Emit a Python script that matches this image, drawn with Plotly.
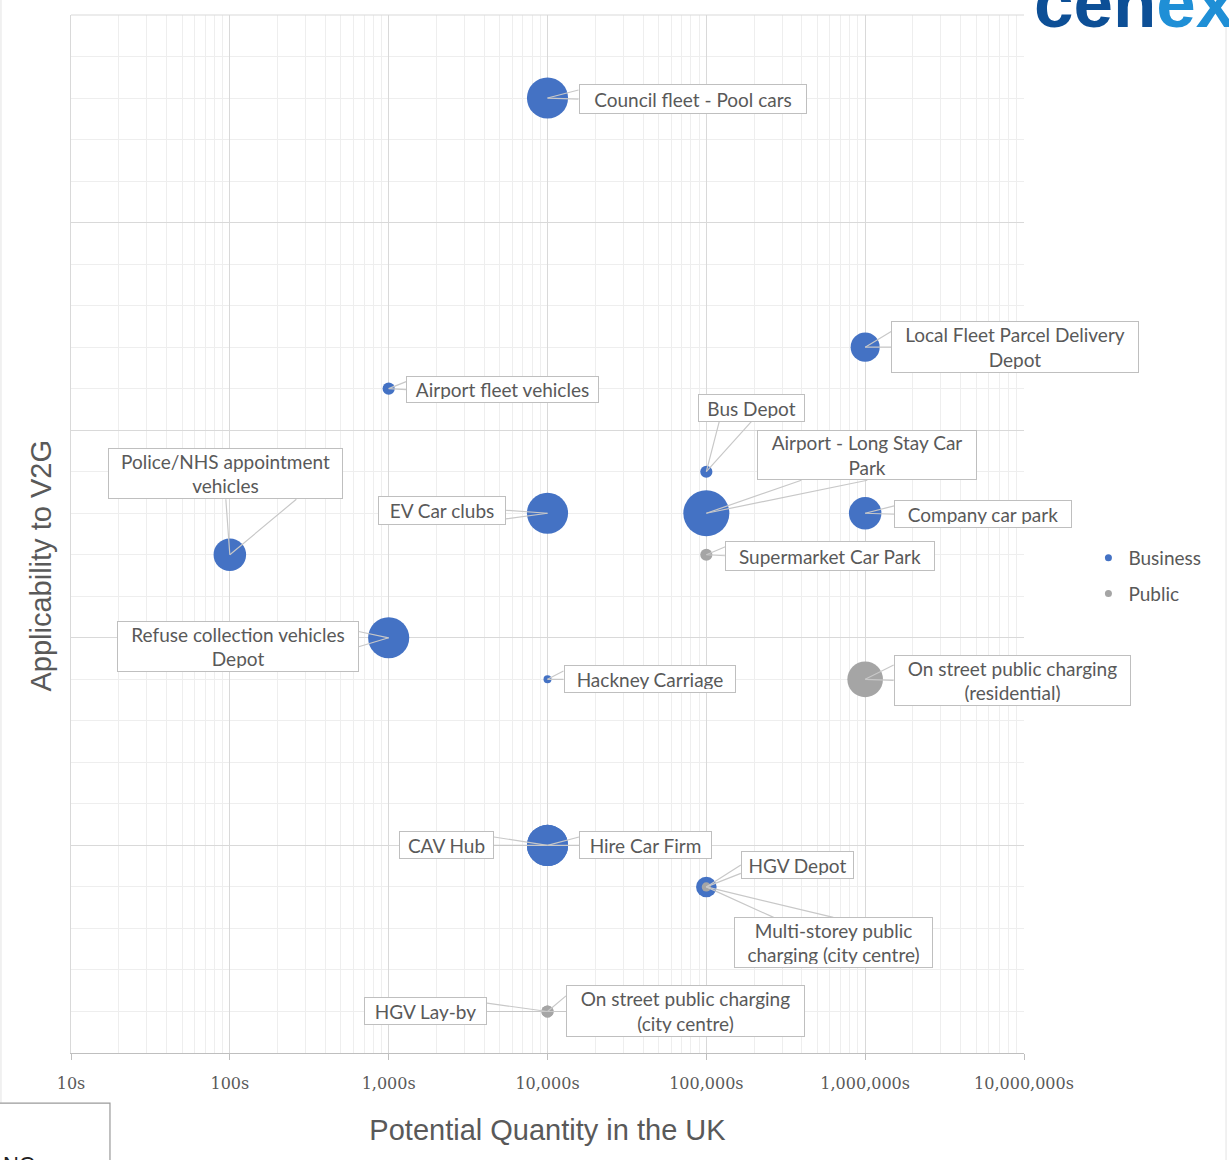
import numpy as np
import plotly.graph_objects as go

# ---- data -------------------------------------------------------------
sites = [
    "Council fleet - Pool cars",
    "Local Fleet Parcel Delivery Depot",
    "Airport fleet vehicles",
    "Bus Depot",
    "Airport - Long Stay Car Park",
    "Police/NHS appointment vehicles",
    "EV Car clubs",
    "Company car park",
    "Supermarket Car Park",
    "Refuse collection vehicles Depot",
    "Hackney Carriage",
    "On street public charging (residential)",
    "CAV Hub",
    "Hire Car Firm",
    "HGV Depot",
    "Multi-storey public charging (city centre)",
    "HGV Lay-by",
    "On street public charging (city centre)",
]
quantity = [1e4, 1e6, 1e3, 1e5, 1e5, 1e2, 1e4, 1e6, 1e5, 1e3,
            1e4, 1e6, 1e4, 1e4, 1e5, 1e5, 1e4, 1e4]
applicability = [4.6, 3.4, 3.2, 2.8, 2.6, 2.4, 2.6, 2.6, 2.4, 2.0,
                 1.8, 1.8, 1.0, 1.0, 0.8, 0.8, 0.2, 0.2]
bubble = [8, 4, 0.7, 0.7, 10, 5, 8, 5, 0.7, 8,
          0.3, 6, 8, 8, 2, 0.4, 0.7, 0.7]
sector = ["Business", "Business", "Business", "Business", "Business",
          "Business", "Business", "Business", "Public", "Business",
          "Business", "Public", "Business", "Business", "Business",
          "Public", "Public", "Public"]

tick_values = [1e1, 1e2, 1e3, 1e4, 1e5, 1e6, 1e7]
tick_labels = ["10s", "100s", "1,000s", "10,000s", "100,000s",
               "1,000,000s", "10,000,000s"]

# ---- label wrapping and callout placement (pixel offsets of the box centre
#      from the bubble, box width / height in pixels) ----------------------
wrapped = {
    "Local Fleet Parcel Delivery Depot": "Local Fleet Parcel Delivery<br>Depot",
    "Airport - Long Stay Car Park": "Airport - Long Stay Car<br>Park",
    "Police/NHS appointment vehicles": "Police/NHS appointment<br>vehicles",
    "Refuse collection vehicles Depot": "Refuse collection vehicles<br>Depot",
    "On street public charging (residential)": "On street public charging<br>(residential)",
    "Multi-storey public charging (city centre)": "Multi-storey public<br>charging (city centre)",
    "On street public charging (city centre)": "On street public charging<br>(city centre)",
}
callout = {
    "Council fleet - Pool cars": (145, 1, 228, 30),
    "Local Fleet Parcel Delivery Depot": (150, 0, 248, 52),
    "Airport fleet vehicles": (114, 1, 193, 27),
    "Bus Depot": (45, -64, 107, 28),
    "Airport - Long Stay Car Park": (161, -58, 220, 50),
    "Police/NHS appointment vehicles": (-4, -81, 235, 51),
    "EV Car clubs": (-106, -3, 128, 29),
    "Company car park": (118, 1, 178, 28),
    "Supermarket Car Park": (124, 1, 210, 30),
    "Refuse collection vehicles Depot": (-151, 9, 242, 51),
    "Hackney Carriage": (102, 0, 172, 28),
    "On street public charging (residential)": (147, 1, 237, 51),
    "CAV Hub": (-101, 0, 95, 28),
    "Hire Car Firm": (98, 0, 133, 28),
    "HGV Depot": (91, -22, 113, 28),
    "Multi-storey public charging (city centre)": (127, 56, 199, 51),
    "HGV Lay-by": (-122, 0, 123, 28),
    "On street public charging (city centre)": (138, 0, 239, 52),
}

colors = {"Business": "#4472C4", "Public": "#A5A5A5"}
label_font = dict(family="Lato", size=19, color="#595959")
grey_text = "#595959"
leader_col = "#c8c8c8"

fig = go.Figure()

# bubbles, one trace per sector (Public drawn on top)
max_diam = 46
for grp in ["Business", "Public"]:
    idx = [i for i, s in enumerate(sector) if s == grp]
    fig.add_trace(go.Scatter(
        x=[quantity[i] for i in idx],
        y=[applicability[i] for i in idx],
        mode="markers",
        name=grp,
        showlegend=False,
        text=[sites[i] for i in idx],
        hoverinfo="text",
        marker=dict(
            size=[bubble[i] for i in idx],
            sizemode="area",
            sizeref=2.0 * max(bubble) / max_diam ** 2,
            color=colors[grp],
            opacity=1,
            line=dict(width=0),
        ),
    ))

# compact legend entries
for grp in ["Business", "Public"]:
    fig.add_trace(go.Scatter(
        x=[None], y=[None], mode="markers", name=grp,
        legendgroup=grp,
        marker=dict(size=7, color=colors[grp]),
    ))


def sgn(v, default=1.0):
    return default if v == 0 else float(np.sign(v))


leaders = []
boxes = []
for name, q, a in zip(sites, quantity, applicability):
    dx, dy, w, h = callout[name]
    # wedge-shaped leader: two lines from the bubble to the facing box edge
    if abs(dx) / (w / 2) > abs(dy) / (h / 2):
        ex = dx - sgn(dx) * w / 2
        pts = [(ex, dy), (ex, dy + sgn(-dy, -1.0) * 0.3 * h)]
    else:
        ey = dy - sgn(dy) * h / 2
        pts = [(dx, ey), (dx + sgn(-dx) * 0.3 * w, ey)]
    for px, py in pts:
        leaders.append(dict(
            x=np.log10(q), y=a, xref="x", yref="y",
            text="", showarrow=True, ax=px, ay=py,
            arrowhead=0, arrowwidth=1.2, arrowcolor=leader_col,
            standoff=0, startstandoff=0, borderpad=0, borderwidth=0,
        ))
    # label box
    boxes.append(dict(
        x=np.log10(q), y=a, xref="x", yref="y",
        xshift=dx, yshift=-dy, xanchor="center", yanchor="middle",
        text=wrapped.get(name, name), showarrow=False,
        font=label_font,
        bgcolor="white", bordercolor="#bfbfbf", borderwidth=1, borderpad=3,
        width=w - 8, height=h - 8, align="center", valign="middle",
    ))

annotations = leaders + boxes

shapes = []
# plot area top border
shapes.append(dict(type="line", xref="paper", yref="paper",
                   x0=0, x1=1, y0=1, y1=1,
                   line=dict(color="#d9d9d9", width=1)))
# outer frame lines and the small box at the lower left
shapes.append(dict(type="line", xref="paper", yref="paper",
                   x0=-0.0735, x1=-0.0735, y0=1.02, y1=-0.048,
                   line=dict(color="#e3e3e3", width=1)))
shapes.append(dict(type="line", xref="paper", yref="paper",
                   x0=1.212, x1=1.212, y0=0.99, y1=-0.12,
                   line=dict(color="#e3e3e3", width=1)))
shapes.append(dict(type="rect", xref="paper", yref="paper",
                   x0=-0.08, x1=0.0409, y0=-0.0482, y1=-0.13,
                   line=dict(color="#9a9a9a", width=1.2),
                   fillcolor="white"))

# y-axis title
annotations.append(dict(
    x=-0.032, y=(1053 - 566) / 1038, xref="paper", yref="paper",
    text="Applicability to V2G", textangle=-90, showarrow=False,
    font=dict(family="Liberation Sans", size=29, color=grey_text),
    xanchor="center", yanchor="middle",
))
# logo
annotations.append(dict(
    x=(1032 - 71) / 953, y=(1053 - 2) / 1038, xref="paper", yref="paper",
    text="<b><span style='color:#0d4f96'>cen</span>"
         "<span style='color:#1f8fd6'>ex</span></b>",
    showarrow=False, xanchor="left", yanchor="middle",
    font=dict(family="Liberation Sans", size=71),
))
annotations.append(dict(
    x=-0.0735, y=(1053 - 1150) / 1038, xref="paper", yref="paper",
    text="NC", showarrow=False, xanchor="left", yanchor="top",
    font=dict(family="Liberation Sans", size=22, color="#222222"),
))

fig.update_layout(
    width=1229, height=1160,
    margin=dict(l=71, r=205, t=15, b=107),
    paper_bgcolor="white", plot_bgcolor="white",
    showlegend=True,
    legend=dict(
        x=1.0676, y=(1053 - 576) / 1038, xanchor="left", yanchor="middle",
        font=dict(family="Lato", size=19, color=grey_text),
        tracegroupgap=8, itemwidth=30, bgcolor="rgba(0,0,0,0)",
    ),
    xaxis=dict(
        type="log", range=[1, 7],
        tickvals=tick_values, ticktext=tick_labels,
        tickfont=dict(family="DejaVu Serif", size=16, color=grey_text),
        ticks="outside", ticklen=6, tickcolor="#bfbfbf",
        ticklabelstandoff=10,
        showline=True, linecolor="#bfbfbf", linewidth=1,
        showgrid=True, gridcolor="#d9d9d9", gridwidth=1,
        minor=dict(dtick="D1", showgrid=True, gridcolor="#eeeeee", ticks=""),
        zeroline=False,
        title=dict(text="Potential Quantity in the UK", standoff=27,
                   font=dict(family="Liberation Sans", size=29, color=grey_text)),
    ),
    yaxis=dict(
        range=[0, 5], tick0=0, dtick=1,
        showticklabels=False, ticks="",
        showline=True, linecolor="#d9d9d9", linewidth=1,
        showgrid=True, gridcolor="#d9d9d9", gridwidth=1,
        minor=dict(dtick=0.2, showgrid=True, gridcolor="#eeeeee", ticks=""),
        zeroline=False,
    ),
    annotations=annotations,
    shapes=shapes,
)

fig.write_html("out.html")
